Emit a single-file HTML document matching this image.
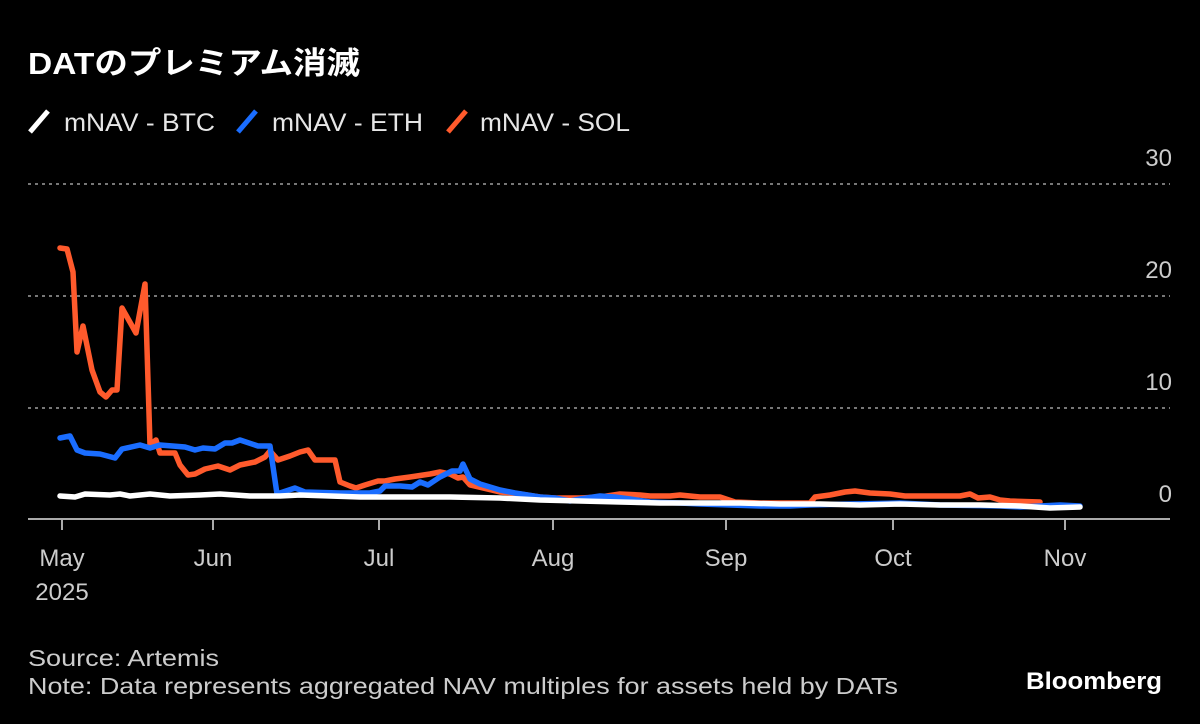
<!DOCTYPE html>
<html><head><meta charset="utf-8"><style>
html,body{margin:0;padding:0;background:#000;}
svg{display:block}
text{font-family:"Liberation Sans Narrow","Liberation Sans","Noto Sans CJK JP",sans-serif;}
</style></head><body>
<svg width="1200" height="724" viewBox="0 0 1200 724" xmlns="http://www.w3.org/2000/svg">
<rect width="1200" height="724" fill="#000"/>
<text x="28" y="74" fill="#fff" font-size="31" font-weight="bold" font-family="'Liberation Sans','Noto Sans CJK JP',sans-serif" textLength="332" lengthAdjust="spacingAndGlyphs">DATのプレミアム消滅</text>
<g stroke-width="5" stroke-linecap="butt">
<line x1="30" y1="132" x2="48" y2="111" stroke="#fff"/>
<line x1="238" y1="132" x2="256" y2="111" stroke="#1a6dff"/>
<line x1="448" y1="132" x2="466" y2="111" stroke="#ff5a2c"/>
</g>
<g fill="#e6e6e6" font-size="25">
<text x="64" y="131" textLength="151" lengthAdjust="spacingAndGlyphs">mNAV - BTC</text>
<text x="272" y="131" textLength="151" lengthAdjust="spacingAndGlyphs">mNAV - ETH</text>
<text x="480" y="131" textLength="150" lengthAdjust="spacingAndGlyphs">mNAV - SOL</text>
</g>
<g stroke="#777" stroke-width="2" stroke-dasharray="3,4">
<line x1="28" y1="184" x2="1170" y2="184"/>
<line x1="28" y1="296" x2="1170" y2="296"/>
<line x1="28" y1="408" x2="1170" y2="408"/>
</g>
<g fill="#ccc" font-size="24" text-anchor="end">
<text x="1172" y="166">30</text>
<text x="1172" y="278">20</text>
<text x="1172" y="390">10</text>
<text x="1172" y="502">0</text>
</g>
<g stroke="#aaa" stroke-width="2">
<line x1="28" y1="519" x2="1170" y2="519"/>
<line x1="62" y1="519" x2="62" y2="530"/>
<line x1="213" y1="519" x2="213" y2="530"/>
<line x1="379" y1="519" x2="379" y2="530"/>
<line x1="553" y1="519" x2="553" y2="530"/>
<line x1="726" y1="519" x2="726" y2="530"/>
<line x1="893" y1="519" x2="893" y2="530"/>
<line x1="1065" y1="519" x2="1065" y2="530"/>
</g>
<g fill="#ccc" font-size="24" text-anchor="middle">
<text x="62" y="566">May</text>
<text x="62" y="600">2025</text>
<text x="213" y="566">Jun</text>
<text x="379" y="566">Jul</text>
<text x="553" y="566">Aug</text>
<text x="726" y="566">Sep</text>
<text x="893" y="566">Oct</text>
<text x="1065" y="566">Nov</text>
</g>
<g fill="none" stroke-width="5.5" stroke-linejoin="round" stroke-linecap="round">
<polyline stroke="#ff5a2c" points="60,248 67,249 73,272 77,352 83,326 92,370 100,392 106,397 112,390 117,390 122,308 136,333 145,284 150,445 156,440 160,453 175,453 180,465 188,475 195,474 205,469 218,466 230,470 240,465 255,462 265,457 270,451 278,460 290,456 300,452 308,450 315,460 323,460 335,460 340,482 350,486 356,488 365,485 378,481 385,481 395,479 410,477 430,474 440,472 450,474 458,478 463,477 470,485 500,492 520,494 540,497 555,498 580,498 600,497 620,494 640,495 650,496 670,496 680,495 700,497 720,497 735,502 760,503 780,503 800,503 810,503 815,497 830,495 845,492 855,491 870,493 890,494 905,496 920,496 940,496 960,496 970,494 978,498 990,497 1000,500 1010,501 1040,502"/>
<polyline stroke="#1a6dff" points="60,438 70,436 77,450 85,453 100,454 115,458 122,449 140,445 150,448 160,445 185,447 195,450 203,448 215,449 225,443 232,443 240,440 258,446 270,446 277,494 295,488 305,492 340,493 370,493 380,491 385,486 400,486 412,487 420,482 428,485 440,477 452,471 460,471 463,464 470,479 480,484 500,490 515,493 540,497 555,498 570,501 580,499 600,496 615,497 630,499 650,502 680,503 700,504 730,505 760,506 790,506 810,505 850,504 900,503 940,505 1000,506 1020,507 1040,506 1060,505 1080,506"/>
<polyline stroke="#fff" points="60,496 75,497 85,494 110,495 120,494 130,496 150,494 170,496 200,495 220,494 250,496 280,496 300,495 330,496 360,497 400,497 450,497 500,498 540,500 580,501 620,502 660,503 700,503 740,503 780,504 820,504 860,505 900,504 940,505 980,505 1020,506 1050,508 1080,507"/>
</g>
<g fill="#ccc" font-size="23">
<text x="28" y="666" textLength="191" lengthAdjust="spacingAndGlyphs">Source: Artemis</text>
<text x="28" y="694" textLength="870" lengthAdjust="spacingAndGlyphs">Note: Data represents aggregated NAV multiples for assets held by DATs</text>
</g>
<text x="1026" y="689" fill="#fff" font-size="24" font-weight="bold" font-family="'Liberation Sans',sans-serif" textLength="136" lengthAdjust="spacingAndGlyphs">Bloomberg</text>
</svg>
</body></html>
